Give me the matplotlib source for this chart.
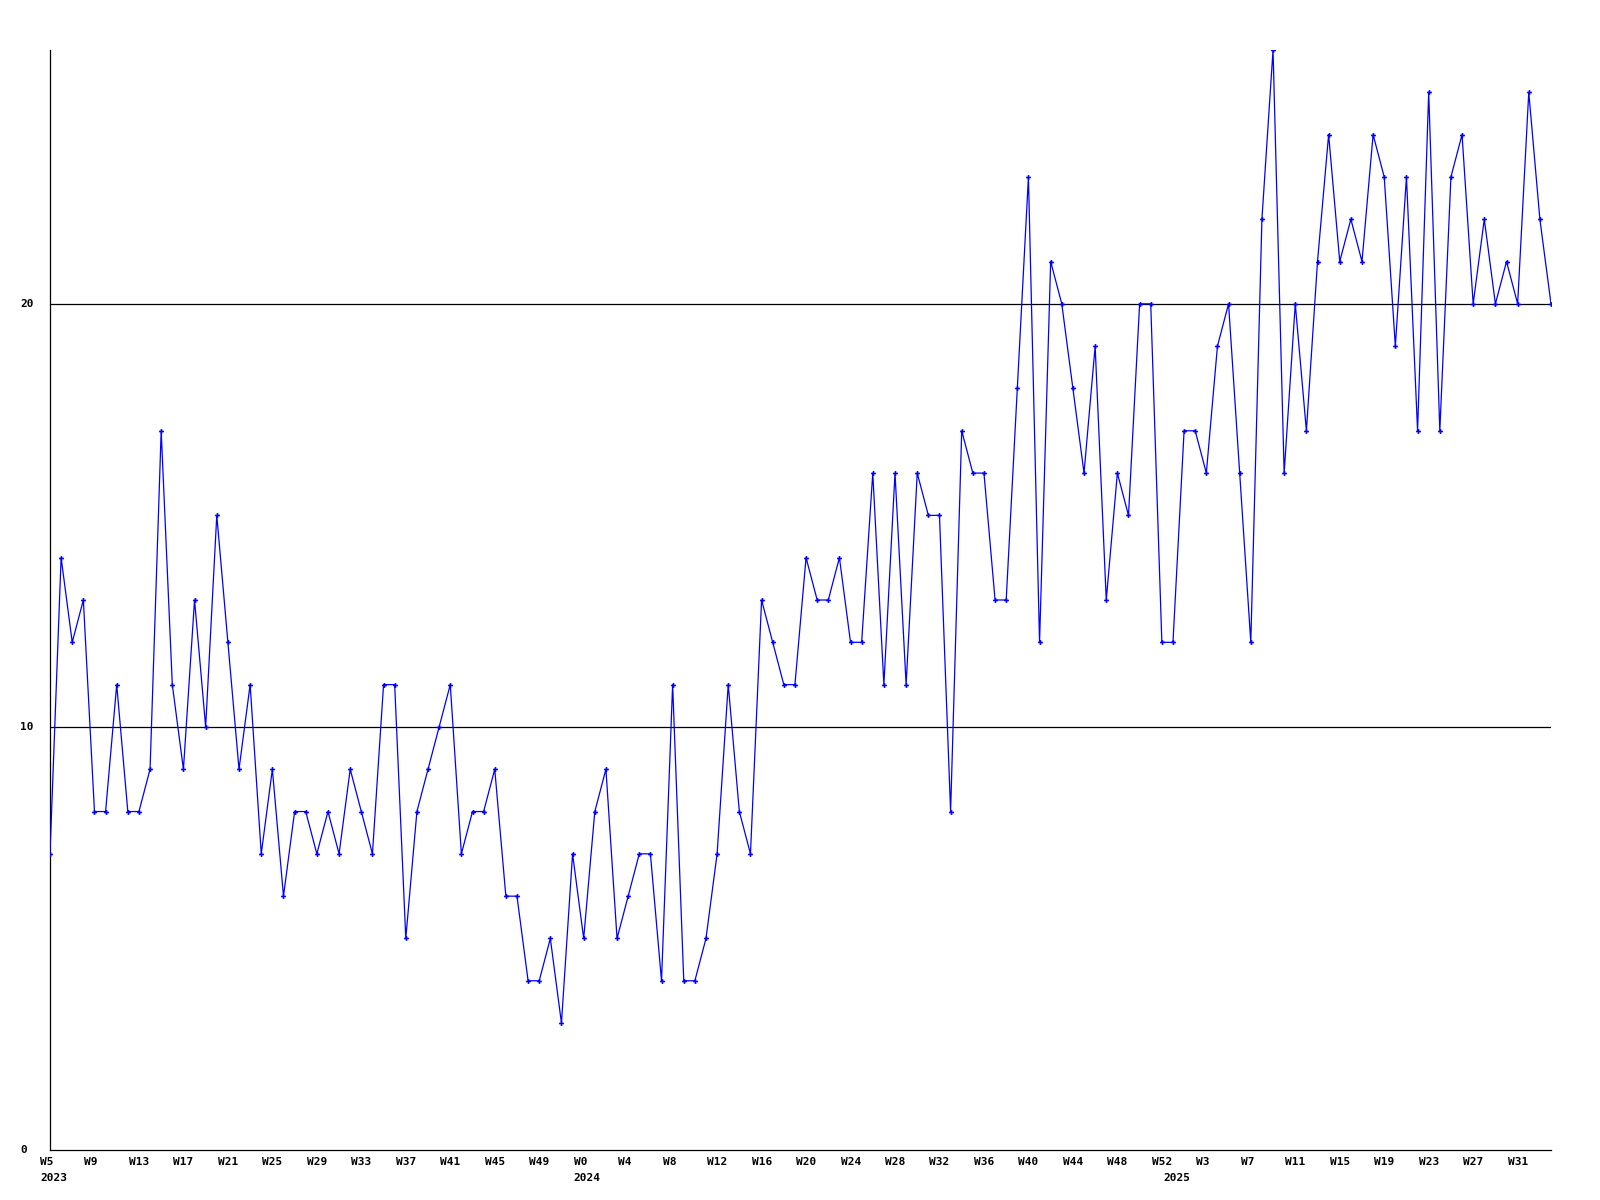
import numpy as np
import matplotlib
matplotlib.use("Agg")
import matplotlib.pyplot as plt
import matplotlib.transforms as mtransforms

# weekly counts, W5 2023 .. W34 2025
values = [7, 14, 12, 13, 8, 8, 11, 8, 8, 9,
          17, 11, 9, 13, 10, 15, 12, 9, 11, 7,
          9, 6, 8, 8, 7, 8, 7, 9, 8, 7,
          11, 11, 5, 8, 9, 10, 11, 7, 8, 8,
          9, 6, 6, 4, 4, 5, 3, 7, 5, 8,
          9, 5, 6, 7, 7, 4, 11, 4, 4, 5,
          7, 11, 8, 7, 13, 12, 11, 11, 14, 13,
          13, 14, 12, 12, 16, 11, 16, 11, 16, 15,
          15, 8, 17, 16, 16, 13, 13, 18, 23, 12,
          21, 20, 18, 16, 19, 13, 16, 15, 20, 20,
          12, 12, 17, 17, 16, 19, 20, 16, 12, 22,
          26, 16, 20, 17, 21, 24, 21, 22, 21, 24,
          23, 19, 23, 17, 25, 17, 23, 24, 20, 22,
          20, 21, 20, 25, 22, 20]

week_labels = ["W5", "W9", "W13", "W17", "W21", "W25", "W29", "W33", "W37",
               "W41", "W45", "W49", "W0", "W4", "W8", "W12", "W16", "W20",
               "W24", "W28", "W32", "W36", "W40", "W44", "W48", "W52", "W3",
               "W7", "W11", "W15", "W19", "W23", "W27", "W31"]
label_step = 4

years = ["2023", "2024", "2025"]
year_idx = [0, 48, 101]

yticks = [0, 10, 20]

fig = plt.figure(figsize=(16, 12), dpi=100)
ax = fig.add_axes([50/1600., 1 - 1150/1200., 1501/1600., 1100/1200.])

x = np.arange(len(values))
ax.plot(x, values, color="#0000ff", linewidth=0.9, marker="P", markersize=3.5,
        markeredgewidth=0, zorder=3)

for v in yticks[1:]:
    ax.axhline(v, color="black", linewidth=0.9, zorder=2)

ax.set_xlim(0, len(values) - 1)
ax.set_ylim(0, 26)

for s in ["top", "right"]:
    ax.spines[s].set_visible(False)
for s in ["left", "bottom"]:
    ax.spines[s].set_linewidth(0.9)

fontd = dict(family="DejaVu Sans Mono", fontweight="bold", fontsize=8)

# y labels, left aligned at a fixed column like the original
ax.set_yticks(yticks)
ax.set_yticklabels([])
ax.tick_params(axis="y", length=0)
ytrans = mtransforms.blended_transform_factory(fig.transFigure, ax.transData)
for v in yticks:
    ax.text(20/1600., v, str(v), transform=ytrans, ha="left", va="center",
            clip_on=False, **fontd)

ax.set_xticks([])
off = mtransforms.ScaledTranslation(-10/100., 0, fig.dpi_scale_trans)
trans = mtransforms.blended_transform_factory(ax.transData, ax.transAxes) + off
for i, lab in enumerate(week_labels):
    ax.text(i*label_step, -0.0065, lab, transform=trans, ha="left", va="top",
            clip_on=False, **fontd)
for yr, idx in zip(years, year_idx):
    ax.text(idx, -0.021, yr, transform=trans, ha="left", va="top",
            clip_on=False, **fontd)

fig.savefig("out.png", dpi=100)
